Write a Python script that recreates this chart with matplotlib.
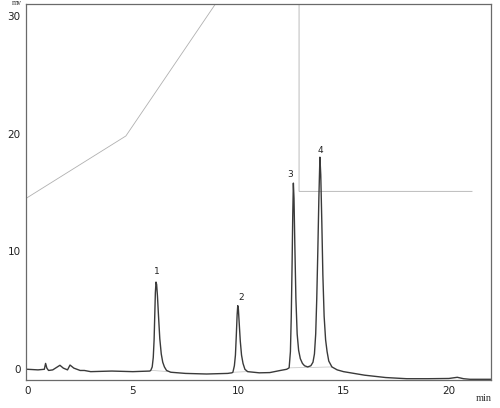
import matplotlib
matplotlib.use("Agg")
import matplotlib.pyplot as plt

# Chromatogram trace (time in min, signal in mV)
trace_t = [0.0, 0.5, 0.8, 0.86, 0.92, 1.0, 1.2, 1.54, 1.7, 1.9, 2.02, 2.2, 2.5, 2.7, 3.0,
           4.0, 5.0, 5.8,
           5.85, 5.92, 5.97, 6.01, 6.04, 6.07, 6.1, 6.13, 6.17, 6.22, 6.28, 6.35, 6.42,
           6.5, 6.6, 6.8, 7.5, 8.5, 9.5, 9.7,
           9.75, 9.82, 9.87, 9.91, 9.95, 9.98, 10.01, 10.05, 10.1, 10.16, 10.23, 10.32,
           10.45, 11.0, 11.5, 12.0, 12.3, 12.4,
           12.42, 12.48, 12.52, 12.56, 12.59, 12.62, 12.65, 12.69, 12.74, 12.8, 12.87,
           12.95, 13.05, 13.15, 13.3, 13.45, 13.55, 13.62, 13.68, 13.73, 13.78, 13.83,
           13.88, 13.92, 13.97, 14.02, 14.08, 14.15, 14.22, 14.3, 14.45, 14.7, 15.0,
           15.5, 16.0, 16.5, 17.0, 18.0, 19.0, 20.0, 20.4, 20.7, 21.0, 22.0]
trace_v = [0.0, -0.05, 0.0, 0.5, 0.1, -0.1, -0.05, 0.34, 0.1, -0.05, 0.36, 0.1, -0.1, -0.1, -0.2,
           -0.15, -0.2, -0.15,
           -0.1, 0.2, 1.0, 2.5, 4.5, 6.5, 7.4, 7.2, 6.2, 4.5, 2.6, 1.3, 0.6,
           0.2, -0.1, -0.25, -0.35, -0.4, -0.35, -0.3,
           -0.25, 0.3, 1.2, 2.8, 4.6, 5.4, 5.1, 3.9, 2.4, 1.2, 0.5, 0.0,
           -0.2, -0.3, -0.28, -0.1, 0.0, 0.1,
           0.15, 1.5, 4.5, 9.0, 13.0, 15.8, 14.5, 10.5, 6.0, 3.0, 1.6,
           0.9, 0.5, 0.3, 0.2, 0.3, 0.6, 1.3, 3.0, 6.0, 10.0, 14.5,
           18.0, 16.5, 12.5, 8.0, 4.5, 2.5, 1.5, 0.7, 0.2, -0.05, -0.2,
           -0.35, -0.5, -0.6, -0.7, -0.8, -0.8, -0.78, -0.68, -0.8, -0.85, -0.85]

# Gradient program line (drawn on the same mV scale)
grad_t = [-0.07, 4.67, 9.3, 12.89, 12.89, 21.1]
grad_v = [14.5, 19.8, 32.0, 32.0, 15.1, 15.1]

# Integration baselines
base_segments = [([5.9, 6.75], [-0.1, -0.2]),
                 ([9.78, 10.4], [-0.25, -0.2]),
                 ([12.42, 14.45], [0.12, 0.2])]

# Peak labels
peak_names = ["1", "2", "3", "4"]
peak_t = [6.14, 10.13, 12.46, 13.88]
peak_v = [8.3, 6.05, 16.55, 18.6]

x_ticks = [0, 5, 10, 15, 20]
y_ticks = [0, 10, 20, 30]

fig = plt.figure(figsize=(5.0, 4.08), dpi=100)
ax = fig.add_axes([0.052, 0.0686, 0.930, 0.9216])

ax.plot(grad_t, grad_v, color="#b0b0b0", lw=0.6, solid_joinstyle="miter")
for bt, bv in base_segments:
    ax.plot(bt, bv, color="#c0c0c0", lw=0.5)
ax.plot(trace_t, trace_v, color="#3a3a3a", lw=1.0)

for n, t, v in zip(peak_names, peak_t, peak_v):
    ax.text(t, v, n, ha="center", va="center", fontsize=6.5, color="#222222")

ax.set_xlim(-0.07, 22.0)
ax.set_ylim(-0.91, 31.0)
ax.set_xticks(x_ticks)
ax.set_yticks(y_ticks)
ax.tick_params(length=0, labelsize=7.5, colors="#222222", pad=4)

for s in ax.spines.values():
    s.set_color("#6a6a6a")
    s.set_linewidth(0.9)

fig.text(0.034, 0.993, "mv", ha="center", va="center", fontsize=5.5,
         family="Liberation Serif", color="#333333")
fig.text(0.968, 0.024, "min", ha="center", va="center", fontsize=7.5,
         family="Liberation Serif", color="#333333")

fig.savefig("out.png", dpi=100, facecolor="white")
